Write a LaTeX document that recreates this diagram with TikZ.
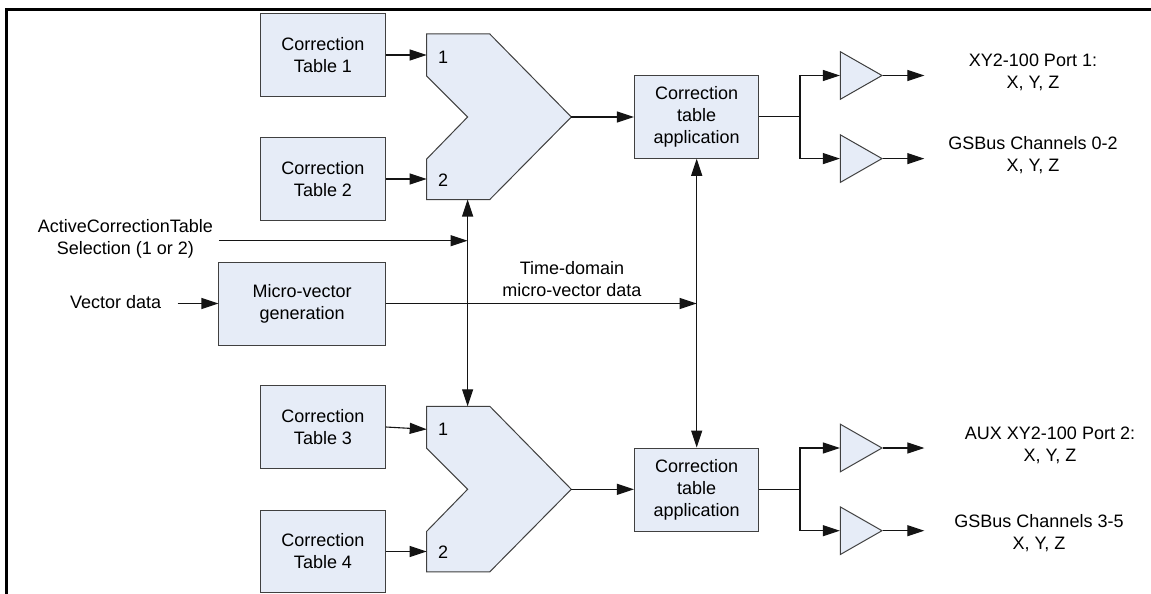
\documentclass[tikz,border=0pt]{standalone}
\usepackage{fontspec}
\setmainfont{Liberation Sans}
\usetikzlibrary{arrows.meta,shapes.geometric,calc}
\definecolor{boxfill}{RGB}{230,236,247}
\definecolor{boxline}{RGB}{64,64,64}
\definecolor{wirecol}{RGB}{20,20,20}

\tikzset{
  mux/.pic={
    \path[draw=boxline, fill=boxfill, line width=1pt]
      (0,0) -- (63.1,0) -- (144.6,83) -- (63.1,165.5) -- (0,165.5)
      -- (0,125) -- (40.9,83) -- (0,42) -- cycle;
    \coordinate (-in1) at (0,23);
    \coordinate (-in2) at (0,146);
    \coordinate (-out) at (144.6,83);
    \coordinate (-top) at (40.9,0);
    \coordinate (-bot) at (40.9,165.5);
    \node (-l1) at (16.3,23) {1};
    \node (-l2) at (16.3,146) {2};
  }
}

\begin{document}
\begin{tikzpicture}[x=1pt,y=-1pt,
  every node/.style={font=\fontsize{18}{22}\selectfont, text=black},
  block/.style={draw=boxline, fill=boxfill, line width=1pt, align=center, inner sep=0pt},
  buffer/.style={draw=boxline, fill=boxfill, line width=1pt, isosceles triangle,
    isosceles triangle stretches, minimum height=41.6pt, minimum width=47.5pt,
    inner sep=0pt, anchor=apex},
  wire/.style={draw=wirecol, line width=1.1pt},
  arr/.style={wire, -{Triangle[length=17pt,width=11pt]}},
  darr/.style={wire, {Triangle[length=17pt,width=11pt]}-{Triangle[length=17pt,width=11pt]}},
  lbl/.style={align=center, inner sep=0pt}]

\useasboundingbox (0,0) rectangle (1151,594);
\fill[white] (0,0) rectangle (1151,594);

% frame
\draw[line width=3.3pt] (1151,9.7) -- (6.7,9.7) -- (6.7,594);

% correction tables
\node[block, minimum width=124.7pt, minimum height=82.6pt] (ct1) at (323,55) {Correction\\Table 1};
\node[block, minimum width=124.7pt, minimum height=82.6pt] (ct2) at (323,179) {Correction\\Table 2};
\node[block, minimum width=124.7pt, minimum height=82.6pt] (ct3) at (323,427) {Correction\\Table 3};
\node[block, minimum width=124.7pt, minimum height=82.6pt] (ct4) at (323,551.5) {Correction\\Table 4};

% micro-vector generator
\node[block, minimum width=166.5pt, minimum height=83pt] (mv) at (302.2,303.5) {Micro-vector\\generation};

% correction application blocks
\node[block, minimum width=124.5pt, minimum height=83pt] (cta1) at (696.7,116.8) {Correction\\table\\application};
\node[block, minimum width=124.5pt, minimum height=83pt] (cta2) at (696.7,489.5) {Correction\\table\\application};

% selectors
\pic (m1) at (426.7,34) {mux};
\pic (m2) at (426.7,406.3) {mux};

% output buffers
\node[buffer] (b1) at (883.3,75.5) {};
\node[buffer] (b2) at (883.3,158.6) {};
\node[buffer] (b3) at (883.3,448) {};
\node[buffer] (b4) at (883.3,530.7) {};

% text labels
\node[lbl] (sel) at (125.3,238.5) {ActiveCorrectionTable\\Selection (1 or 2)};
\node[lbl] (vd) at (115.7,302) {Vector data};
\node[lbl] (td) at (572,279.5) {Time-domain\\micro-vector data};
\node[lbl] (o1) at (1033,72.5) {XY2-100 Port 1:\\X, Y, Z};
\node[lbl] (o2) at (1033,155.3) {GSBus Channels 0-2\\X, Y, Z};
\node[lbl] (o3) at (1050,445.5) {AUX XY2-100 Port 2:\\X, Y, Z};
\node[lbl] (o4) at (1039,533) {GSBus Channels 3-5\\X, Y, Z};

% free ends and junctions
\coordinate (selstart) at (218.9,240.7);
\coordinate (vdstart) at (177.7,303.5);
\coordinate (j1) at (m1-bot |- selstart);
\coordinate (j2) at (cta1.south |- mv.east);
\coordinate (s1) at (800,116.8);
\coordinate (s2) at (800,489.5);
\coordinate (e1) at (924.3,75.5);
\coordinate (e2) at (924.3,158.6);
\coordinate (e3) at (924.3,448);
\coordinate (e4) at (924.3,530.7);

% table inputs
\draw[arr] (ct1.east) -- (ct1.east -| m1-in1);
\draw[arr] (ct2.east) -- (ct2.east -| m1-in2);
\draw[arr] (ct3.east) -- (m2-in1);
\draw[arr] (ct4.east) -- (ct4.east -| m2-in2);

% selection and data paths
\draw[arr] (selstart) -- (j1);
\draw[darr] (m1-bot) -- (m2-top);
\draw[arr] (vdstart) -- (mv.west);
\draw[arr] (mv.east) -- (j2);
\draw[darr] (cta1.south) -- (cta2.north);

% selector outputs
\draw[arr] (m1-out) -- (m1-out -| cta1.west);
\draw[arr] (m2-out) -- (m2-out -| cta2.west);

% fan-out to buffers
\draw[wire] (cta1.east) -- (s1);
\draw[arr] (s1) |- (b1.west);
\draw[arr] (s1) |- (b2.west);
\draw[wire] (cta2.east) -- (s2);
\draw[arr] (s2) |- (b3.west);
\draw[arr] (s2) |- (b4.west);

% buffer outputs
\draw[arr] (b1.apex) -- (e1);
\draw[arr] (b2.apex) -- (e2);
\draw[arr] (b3.apex) -- (e3);
\draw[arr] (b4.apex) -- (e4);

\end{tikzpicture}
\end{document}
